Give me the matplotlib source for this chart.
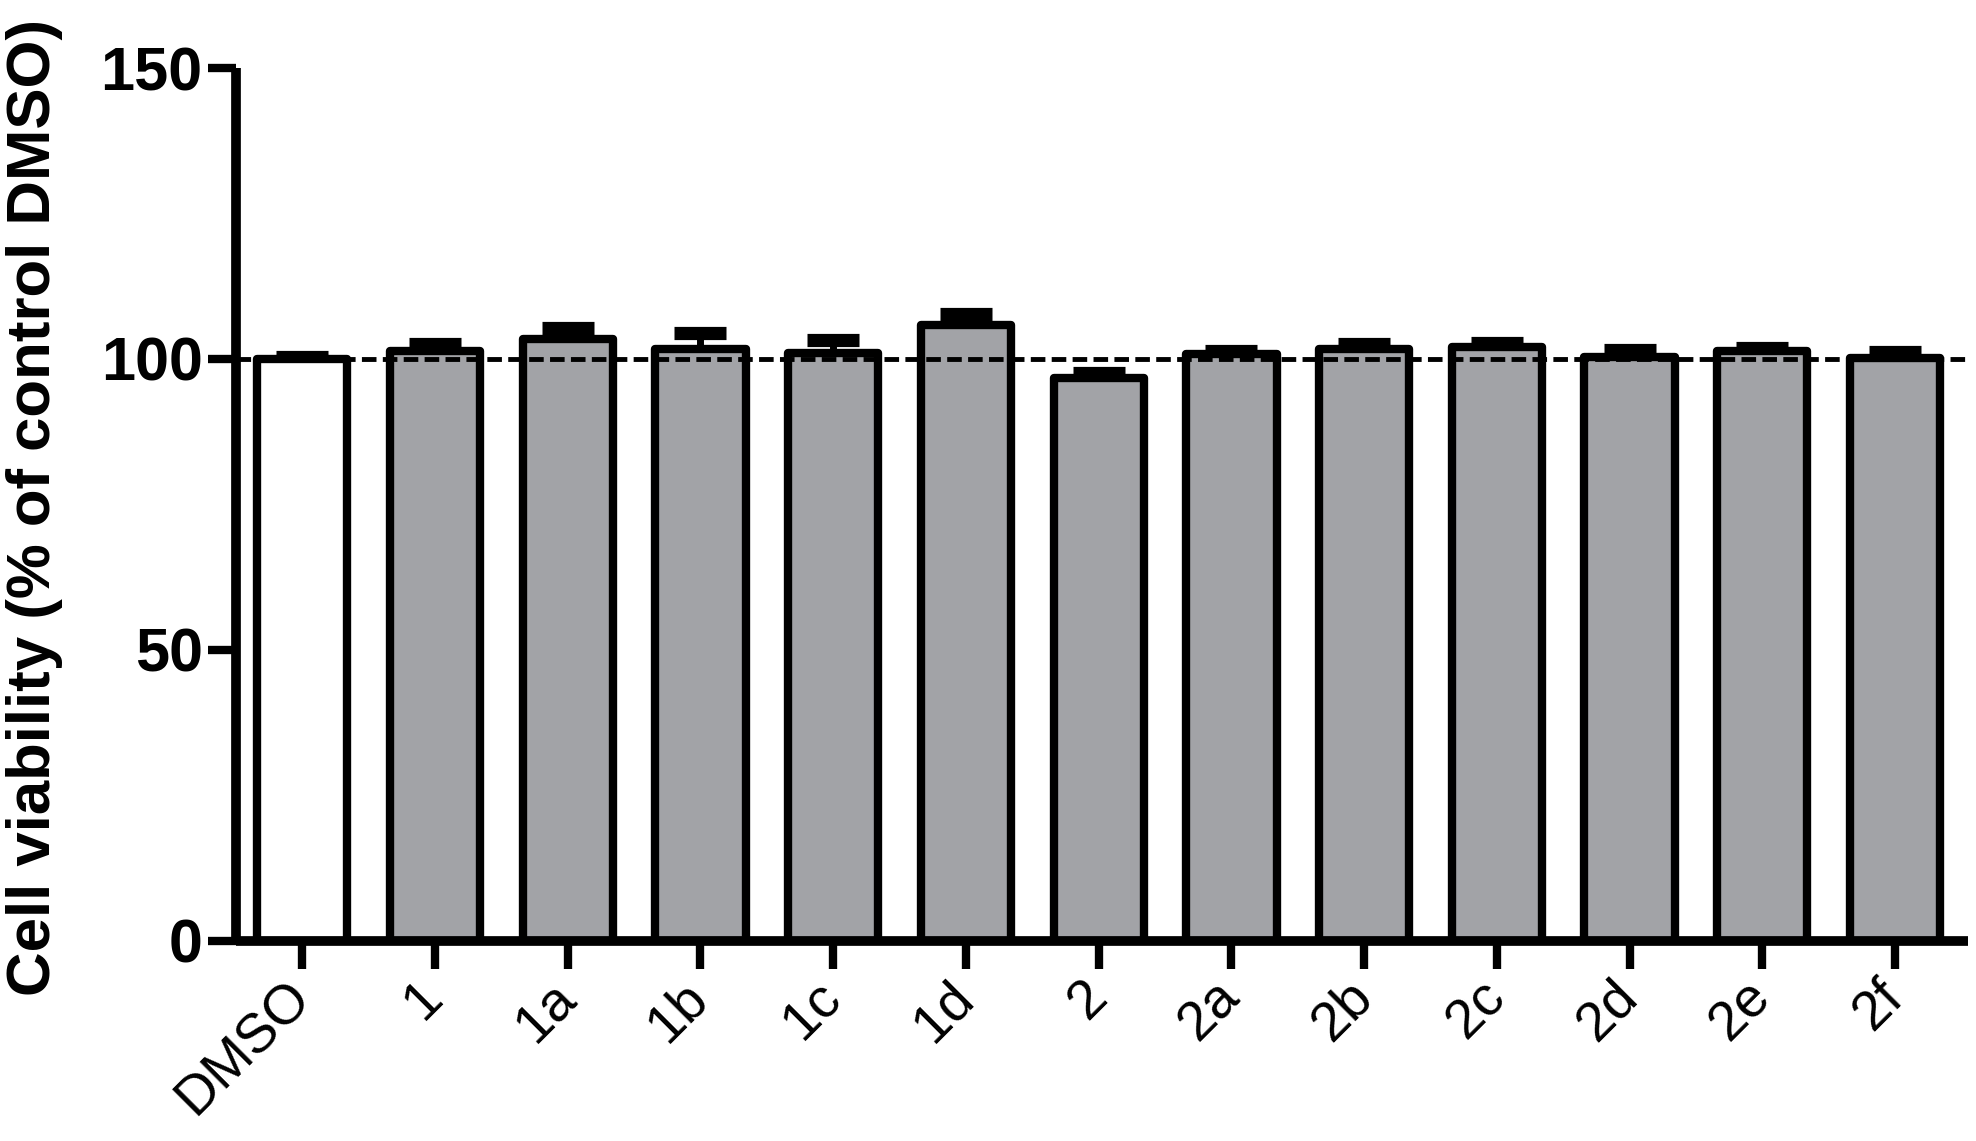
import numpy as np
import matplotlib
matplotlib.use("Agg")
import matplotlib.pyplot as plt

# Data
labels = ["DMSO", "1", "1a", "1b", "1c", "1d", "2", "2a", "2b", "2c", "2d", "2e", "2f"]
means = [100.0, 101.4, 103.4, 101.7, 101.0, 105.9, 96.7, 100.9, 101.7, 102.1, 100.3, 101.3, 100.2]
errors = [0.4, 1.2, 2.0, 2.7, 2.2, 1.9, 0.9, 0.5, 0.8, 0.6, 1.3, 0.6, 1.0]
fill_colors = ["white"] + ["#a2a3a7"] * 12
y_ticks = [0, 50, 100, 150]
control_level = 100


def PlotViability(out: str) -> None:
    plt.rcParams["font.family"] = ["Liberation Sans", "DejaVu Sans"]

    fig = plt.figure(figsize=(19.76, 11.41), dpi=100)
    ax = fig.add_axes([0.1194, 0.1753, 0.8766, 0.7651])

    x = np.arange(len(labels))

    # Error bars behind the bars, so only the upper part shows
    ax.errorbar(x, means, yerr=errors, fmt="none", ecolor="black",
                elinewidth=5, capsize=19, capthick=9.5, zorder=1)
    ax.bar(x, means, width=0.68, color=fill_colors, edgecolor="black",
           linewidth=6, joinstyle="round", zorder=2)

    # Control reference line
    ax.axhline(control_level, color="black", linewidth=3.5,
               dashes=(3, 1.3), zorder=3)

    ax.set_xlim(-0.5, 12.55)
    ax.set_ylim(0, 150)
    ax.set_yticks(y_ticks)
    ax.set_yticklabels([str(t) for t in y_ticks], fontsize=44, fontweight="bold")
    ax.set_xticks(x)
    ax.set_xticklabels(labels, fontsize=40, rotation=45,
                       rotation_mode="anchor", ha="right", va="center")

    for side in ["top", "right"]:
        ax.spines[side].set_visible(False)
    for side in ["left", "bottom"]:
        ax.spines[side].set_linewidth(7)
        ax.spines[side].set_capstyle("butt")
    ax.tick_params(axis="both", length=20, width=6, direction="out")
    ax.tick_params(axis="y", pad=4)
    ax.tick_params(axis="x", pad=15)

    fig.text(0.0177, 0.5557, "Cell viability (% of control DMSO)",
             rotation=90, fontsize=44.5, fontweight="bold",
             ha="center", va="center")

    fig.savefig(out, dpi=100)


if __name__ == "__main__":
    PlotViability("out.png")
